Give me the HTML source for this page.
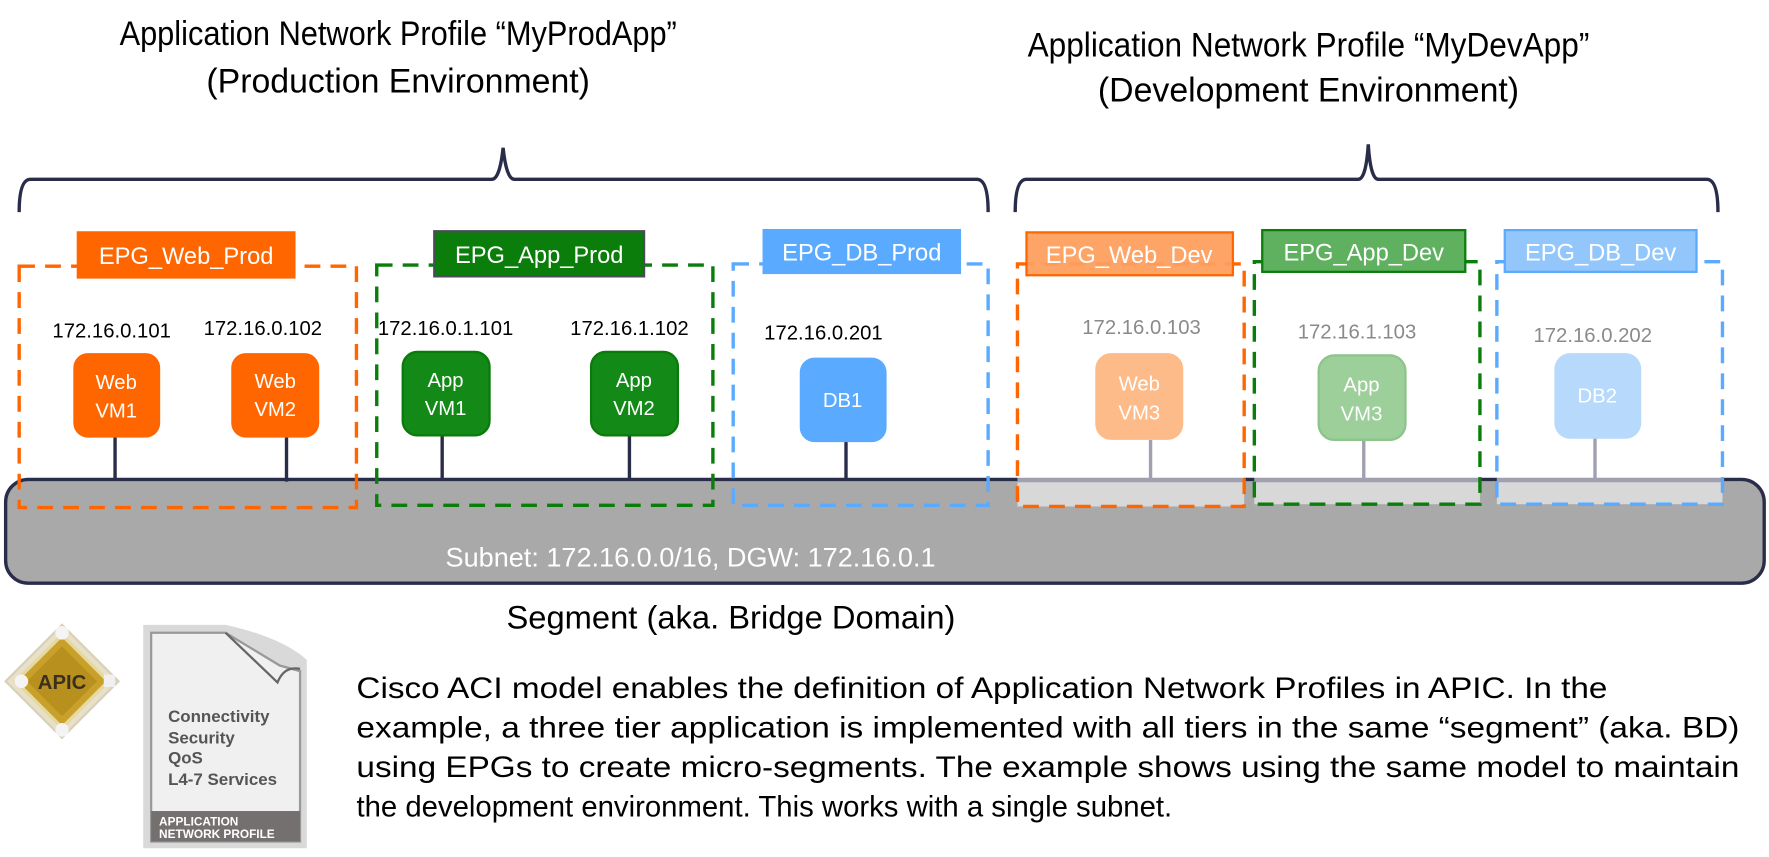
<!DOCTYPE html>
<html><head><meta charset="utf-8"><style>
html,body{margin:0;padding:0;background:#fff;}
svg{display:block;font-family:"Liberation Sans",Arial,sans-serif;}
</style></head><body>
<svg width="1769" height="857" viewBox="0 0 1769 857" xmlns="http://www.w3.org/2000/svg">
<g transform="scale(1.128)">
<!-- Titles -->
<g font-size="30" fill="#000" text-anchor="middle">
<text x="353" y="40" textLength="494" lengthAdjust="spacingAndGlyphs">Application Network Profile “MyProdApp”</text>
<text x="353" y="82">(Production Environment)</text>
<text x="1160" y="50" textLength="498" lengthAdjust="spacingAndGlyphs">Application Network Profile “MyDevApp”</text>
<text x="1160" y="90">(Development Environment)</text>
</g>
<!-- Braces -->
<g fill="none" stroke="#2a2d4a" stroke-width="3">
<path d="M17 188 Q17 159 27 159 L436 159 Q443 159 446 131 Q449 159 456 159 L866 159 Q876 159 876 188"/>
<path d="M900 188 Q900 159 910 159 L1204 159 Q1211 159 1213 128 Q1215 159 1222 159 L1513 159 Q1523 159 1523 188"/>
</g>
<!-- Segment bar -->
<rect x="5" y="425" width="1559" height="92" rx="20" fill="#a9a9a9" stroke="#2a2d4a" stroke-width="3"/>
<text x="395" y="502" font-size="24" fill="#fff">Subnet:  172.16.0.0/16,  DGW: 172.16.0.1</text>
<!-- Prod EPG boxes -->
<g fill="none" stroke-width="3" stroke-dasharray="14 9">
<rect x="17" y="236" width="299" height="214" stroke="#ff6600"/>
<rect x="334" y="235" width="298" height="213" stroke="#0a7d0a"/>
<rect x="650" y="234" width="226" height="214" stroke="#5aabff"/>
</g>
<rect x="68" y="205" width="194" height="42" fill="#ff6600"/>
<text x="165" y="234" font-size="21" fill="#fff" text-anchor="middle">EPG_Web_Prod</text>
<rect x="385" y="205" width="186" height="40" fill="#0a7d0a" stroke="#4a4a5a" stroke-width="2"/>
<text x="478" y="233" font-size="21" fill="#fff" text-anchor="middle">EPG_App_Prod</text>
<rect x="676" y="203" width="176" height="40" fill="#5aabff"/>
<text x="764" y="231" font-size="21" fill="#fff" text-anchor="middle">EPG_DB_Prod</text>
<!-- Prod IPs -->
<g font-size="18" fill="#000" text-anchor="middle">
<text x="99" y="299">172.16.0.101</text>
<text x="233" y="297">172.16.0.102</text>
<text x="395" y="297">172.16.0.1.101</text>
<text x="558" y="297">172.16.1.102</text>
<text x="730" y="301">172.16.0.201</text>
</g>
<!-- Prod links -->
<g stroke="#2a2d4a" stroke-width="3">
<line x1="102" y1="387" x2="102" y2="426"/>
<line x1="254" y1="387" x2="254" y2="427"/>
<line x1="392" y1="385" x2="392" y2="426"/>
<line x1="558" y1="385" x2="558" y2="426"/>
<line x1="750" y1="390" x2="750" y2="426"/>
</g>
<!-- Prod VMs -->
<rect x="65" y="313" width="77" height="75" rx="13" fill="#ff6600"/>
<rect x="205" y="313" width="78" height="75" rx="13" fill="#ff6600"/>
<rect x="357" y="312" width="77" height="74" rx="13" fill="#138a17" stroke="#0a7a0a" stroke-width="2"/>
<rect x="524" y="312" width="77" height="74" rx="13" fill="#138a17" stroke="#0a7a0a" stroke-width="2"/>
<rect x="709" y="317" width="77" height="75" rx="13" fill="#5aabff"/>
<g font-size="18" fill="#fff" text-anchor="middle">
<text x="103" y="345">Web</text><text x="103" y="370">VM1</text>
<text x="244" y="344">Web</text><text x="244" y="369">VM2</text>
<text x="395" y="343">App</text><text x="395" y="368">VM1</text>
<text x="562" y="343">App</text><text x="562" y="368">VM2</text>
<text x="747" y="361">DB1</text>
</g>
<!-- Dev overlays -->
<g fill="#ffffff" fill-opacity="0.55">
<rect x="902" y="234" width="201" height="215"/>
<rect x="1112" y="232" width="200" height="215"/>
<rect x="1327" y="232" width="200" height="215"/>
</g>
<g stroke="#a0a0b0" stroke-width="3">
<line x1="902" y1="426" x2="1103" y2="426"/>
<line x1="1112" y1="426" x2="1312" y2="426"/>
<line x1="1327" y1="426" x2="1527" y2="426"/>
<line x1="1020" y1="390" x2="1020" y2="426"/>
<line x1="1209" y1="390" x2="1209" y2="426"/>
<line x1="1414" y1="388" x2="1414" y2="426"/>
</g>
<g fill="none" stroke-width="3" stroke-dasharray="14 9">
<rect x="902" y="234" width="201" height="215" stroke="#ff6600"/>
<rect x="1112" y="232" width="200" height="215" stroke="#0a7d0a"/>
<rect x="1327" y="232" width="200" height="215" stroke="#5aabff"/>
</g>
<rect x="910" y="206" width="183" height="38" fill="#fd9f5e" fill-opacity="0.95" stroke="#ff6600" stroke-width="2"/>
<text x="1001" y="233" font-size="21" fill="#fff" text-anchor="middle">EPG_Web_Dev</text>
<rect x="1119" y="204" width="180" height="37" fill="#5fb05f" stroke="#0a7d0a" stroke-width="2"/>
<text x="1209" y="231" font-size="21" fill="#fff" text-anchor="middle">EPG_App_Dev</text>
<rect x="1334" y="204" width="170" height="37" fill="#93c7fb" stroke="#5aabff" stroke-width="2"/>
<text x="1419" y="231" font-size="21" fill="#fff" text-anchor="middle">EPG_DB_Dev</text>
<g font-size="18" fill="#8a8a8a" text-anchor="middle">
<text x="1012" y="296">172.16.0.103</text>
<text x="1203" y="300">172.16.1.103</text>
<text x="1412" y="303">172.16.0.202</text>
</g>
<rect x="971" y="313" width="78" height="77" rx="14" fill="#fdbb8a"/>
<rect x="1169" y="315" width="77" height="75" rx="14" fill="#9ccf9a" stroke="#8cc48a" stroke-width="2"/>
<rect x="1378" y="313" width="77" height="76" rx="14" fill="#b7d9fb"/>
<g font-size="18" fill="#fff" text-anchor="middle">
<text x="1010" y="346">Web</text><text x="1010" y="372">VM3</text>
<text x="1207" y="347">App</text><text x="1207" y="373">VM3</text>
<text x="1416" y="357">DB2</text>
</g>
<!-- Segment label -->
<text x="449" y="557" font-size="29" fill="#000">Segment (aka. Bridge Domain)</text>
<!-- APIC icon -->
<g transform="translate(55,604)">
<polygon points="0,-50 50,0 0,50 -50,0" fill="#e8e0c8" stroke="#d8d0b8" stroke-width="2"/>
<polygon points="0,-41 41,0 0,41 -41,0" fill="#c9a02a" stroke="#e6d9a0" stroke-width="3"/>
<polygon points="0,-31 31,0 0,31 -31,0" fill="#b8901e"/>
<text x="0" y="7" font-size="18" font-weight="bold" fill="#3a3020" text-anchor="middle">APIC</text>
<circle cx="0" cy="-43" r="6" fill="#f4f4f4"/><circle cx="0" cy="43" r="6" fill="#f4f4f4"/>
<circle cx="-36" cy="0" r="6" fill="#f4f4f4"/><rect x="37" y="-6" width="10" height="11" fill="#f0f0f0"/>
</g>
<!-- ANP doc -->
<path d="M127 554 L200 554 Q250 565 272 585 L272 752 L127 752 Z" fill="#d9d9d9"/>
<path d="M134 561 L200 561 L248 590 L266 595 L266 746 L134 746 Z" fill="#f0f0f0" stroke="#999" stroke-width="2"/>
<path d="M200 561 L246 605 Q252 590 266 593" fill="none" stroke="#666" stroke-width="2"/>
<rect x="134" y="719" width="132" height="27" fill="#757070"/>
<g font-size="15" font-weight="bold" fill="#555">
<text x="149" y="640">Connectivity</text>
<text x="149" y="659">Security</text>
<text x="149" y="677">QoS</text>
<text x="149" y="696">L4-7 Services</text>
</g>
<g font-size="10.5" font-weight="bold" fill="#fff">
<text x="141" y="732">APPLICATION</text>
<text x="141" y="743">NETWORK PROFILE</text>
</g>
<!-- Paragraph -->
<g font-size="26" fill="#000">
<text x="316" y="619" textLength="1109" lengthAdjust="spacingAndGlyphs">Cisco ACI model enables the definition of Application Network Profiles in APIC. In the</text>
<text x="316" y="654" textLength="1226" lengthAdjust="spacingAndGlyphs">example, a three tier application is implemented with all tiers in the same “segment” (aka. BD)</text>
<text x="316" y="689" textLength="1226" lengthAdjust="spacingAndGlyphs">using EPGs to create micro-segments. The example shows using the same model to maintain</text>
<text x="316" y="724">the development environment. This works with a single subnet.</text>
</g>
</g>
</svg>
</body></html>
